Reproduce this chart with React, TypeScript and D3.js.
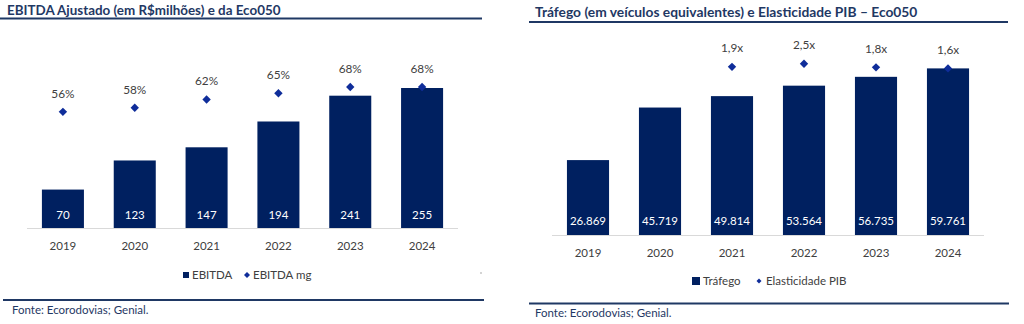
import React from "react";
import * as d3 from "d3";

const years = ["2019", "2020", "2021", "2022", "2023", "2024"];
const ebitda = [70, 123, 147, 194, 241, 255];
const ebitdaMg = [0.56, 0.58, 0.62, 0.65, 0.68, 0.68];
const trafego = [26869, 45719, 49814, 53564, 56735, 59761];
const elasticidade: (number | null)[] = [null, null, 1.9, 2.5, 1.8, 1.6];

const leftTitle = "EBITDA Ajustado (em R$milhões) e da Eco050";
const rightTitle = "Tráfego (em veículos equivalentes) e Elasticidade PIB – Eco050";
const fonte = "Fonte: Ecorodovias; Genial.";

const NAVY = "#002060";
const DIAM = "#0F2D9A";
const TITLE = "#1F3864";
const TXT = "#404040";
const FONT = "Lato, 'Open Sans', sans-serif";

const fmtPct = d3.format(".0%");
const fmtThousands = (v: number) => d3.format(",")(v).replace(/,/g, ".");
const fmtX = (v: number) => d3.format(".1f")(v).replace(".", ",") + "x";

function diamond(cx: number, cy: number, r: number) {
  return `M${cx},${cy - r}L${cx + r},${cy}L${cx},${cy + r}L${cx - r},${cy}Z`;
}

function LeftChart() {
  const x = d3.scaleBand<string>().domain(years).range([27, 458]).paddingInner(0.415).paddingOuter(0.2075);
  const y = d3.scaleLinear().domain([0, 300]).range([228, 63.3]);
  const y2 = d3.scaleLinear().domain([0, 0.8]).range([228, 62.1]);
  return (
    <g>
      <text x={7} y={15} fontSize={13.4} fontWeight={700} fill={TITLE} fontFamily={FONT}>{leftTitle}</text>
      <line x1={0} x2={482} y1={18.5} y2={18.5} stroke={TITLE} strokeWidth={2} />
      {years.map((yr, i) => (
        <g key={yr}>
          <rect x={x(yr)!} y={y(ebitda[i])} width={x.bandwidth()} height={y(0) - y(ebitda[i])} fill={NAVY} />
          <text x={x(yr)! + x.bandwidth() / 2} y={219} textAnchor="middle" fontSize={11.5} fill="#fff" fontFamily={FONT}>{ebitda[i]}</text>
          <text x={x(yr)! + x.bandwidth() / 2} y={250} textAnchor="middle" fontSize={11.5} fill={TXT} fontFamily={FONT}>{yr}</text>
          <path d={diamond(x(yr)! + x.bandwidth() / 2, y2(ebitdaMg[i]), 4.2)} fill={DIAM} />
          <text x={x(yr)! + x.bandwidth() / 2} y={y2(ebitdaMg[i]) - 14} textAnchor="middle" fontSize={11.8} fill={TXT} fontFamily={FONT}>{fmtPct(ebitdaMg[i])}</text>
        </g>
      ))}
      <line x1={27} x2={458} y1={228.5} y2={228.5} stroke="#D9D9D9" strokeWidth={1} />
      <rect x={183} y={272} width={6} height={6} fill={NAVY} />
      <text x={192} y={279} fontSize={11.5} fill={TXT} fontFamily={FONT}>EBITDA</text>
      <path d={diamond(247, 275, 3)} fill={DIAM} />
      <text x={253} y={279} fontSize={11.5} fill={TXT} fontFamily={FONT}>EBITDA mg</text>
      <rect x={480.5} y={272.5} width={1} height={1} fill="#555" />
      <line x1={3} x2={484} y1={300} y2={300} stroke={TITLE} strokeWidth={2} />
      <text x={12} y={314} fontSize={11.5} fill={TITLE} fontFamily={FONT}>{fonte}</text>
    </g>
  );
}

function RightChart() {
  const x = d3.scaleBand<string>().domain(years).range([552, 984]).paddingInner(0.415).paddingOuter(0.2075);
  const y = d3.scaleLinear().domain([0, 66000]).range([235, 51]);
  const y2 = d3.scaleLinear().domain([-31, 5]).range([235, 51]);
  return (
    <g>
      <text x={535} y={17} fontSize={13.8} fontWeight={700} fill={TITLE} fontFamily={FONT}>{rightTitle}</text>
      <line x1={529} x2={1008} y1={22} y2={22} stroke={TITLE} strokeWidth={2} />
      {years.map((yr, i) => {
        const cx = x(yr)! + x.bandwidth() / 2;
        const e = elasticidade[i];
        return (
          <g key={yr}>
            <rect x={x(yr)!} y={y(trafego[i])} width={x.bandwidth()} height={y(0) - y(trafego[i])} fill={NAVY} />
            <text x={cx} y={225} textAnchor="middle" fontSize={11.5} fill="#fff" fontFamily={FONT}>{fmtThousands(trafego[i])}</text>
            <text x={cx} y={256.5} textAnchor="middle" fontSize={11.5} fill={TXT} fontFamily={FONT}>{yr}</text>
            {e !== null && (
              <g>
                <path d={diamond(cx, y2(e), 4.2)} fill={DIAM} />
                <text x={cx} y={y2(e) - 14.5} textAnchor="middle" fontSize={11.8} fill={TXT} fontFamily={FONT}>{fmtX(e)}</text>
              </g>
            )}
          </g>
        );
      })}
      <line x1={552} x2={984} y1={235.5} y2={235.5} stroke="#D9D9D9" strokeWidth={1} />
      <rect x={692} y={277} width={8} height={8} fill={NAVY} />
      <text x={703} y={285} fontSize={11.5} fill={TXT} fontFamily={FONT}>Tráfego</text>
      <path d={diamond(759, 281, 2.5)} fill={DIAM} />
      <text x={766} y={285} fontSize={11.5} fill={TXT} fontFamily={FONT}>Elasticidade PIB</text>
      <line x1={529} x2={1009} y1={303.5} y2={303.5} stroke={TITLE} strokeWidth={2} />
      <text x={535} y={317} fontSize={11.5} fill={TITLE} fontFamily={FONT}>{fonte}</text>
    </g>
  );
}

export default function App() {
  return (
    <svg width={1024} height={324} style={{ position: "absolute", left: 0, top: 0, background: "#fff" }}>
      <rect width={1024} height={324} fill="#fff" />
      <LeftChart />
      <RightChart />
    </svg>
  );
}
